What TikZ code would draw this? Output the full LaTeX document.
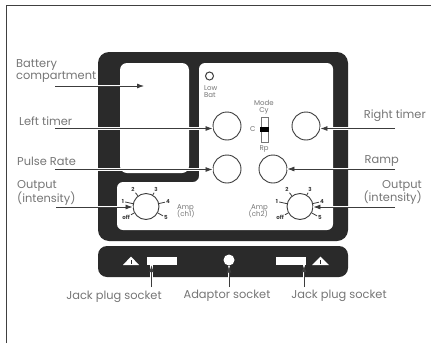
\documentclass[tikz,border=0pt]{standalone}
\usepackage{fontspec}
\setmainfont{Poppins}
\usepackage{xcolor}
\usetikzlibrary{arrows.meta,positioning}
\definecolor{panel}{HTML}{2A2A2A}
\definecolor{muted}{HTML}{757575}
\definecolor{line}{HTML}{3C3C3C}
% one dial with its numbers round it
\newcommand{\ampdial}[3]{
  \node[dial] (#1) at (#2,#3) {};
  \foreach \mark/\dx/\dy in {one/-23/-5,two/-13/-17,three/10/-17,four/22/-5,five/20/11,off/-20/11} {
    \coordinate (#1\mark) at (#2+\dx,#3+\dy);
  }
  \node[dialtext] (#1a) at (#1one) {1};
  \node[dialtext] (#1b) at (#1two) {2};
  \node[dialtext] (#1c) at (#1three) {3};
  \node[dialtext] (#1d) at (#1four) {4};
  \node[dialtext] (#1e) at (#1five) {5};
  \node[dialtext] (#1f) at (#1off) {off};
  \foreach \n in {a,b,c,d,e,f} { \draw[line width=0.8pt, draw=line] (#1) -- (#1\n); }
}

\begin{document}
\begin{tikzpicture}[
  x=1pt, y=-1pt,
  label/.style={font=\fontsize{11.4}{13}\selectfont, text=muted, inner sep=0pt, align=left},
  small/.style={font=\fontsize{7}{9}\selectfont, text=muted, inner sep=0pt, align=center},
  dialtext/.style={font=\fontsize{5.5}{6}\selectfont\bfseries, text=line, inner sep=1pt},
  dial/.style={circle, draw=line, fill=white, line width=0.9pt, minimum size=26pt, inner sep=0pt},
  knob/.style={circle, draw=line, fill=white, line width=0.9pt, minimum size=28pt, inner sep=0pt},
  slot/.style={fill=white, minimum width=30pt, minimum height=8pt, inner sep=0pt},
  arrow/.style={-{Latex[length=7pt,width=5pt]}, line width=0.8pt, draw=line,
                preaction={draw=white, line width=2.2pt, -}}
]
  \useasboundingbox (0,0) rectangle (431,343);
  \draw[line width=1.6pt, draw=black!75] (6.5,343) -- (6.5,5.5) -- (431,5.5);

  % main panel
  \fill[panel, rounded corners=11pt] (98,52) rectangle (348,241);
  \node[fill=white, rounded corners=7pt, minimum width=69pt, minimum height=110pt, inner sep=0pt] (battery) at (154.5,118) {};
  \fill[white, rounded corners=6pt] (199,63) -- (333,63) -- (333,230) -- (117,230) -- (117,182) -- (199,182) -- cycle;

  % plug strip
  \fill[panel, rounded corners=9pt] (98,246) rectangle (348,277);
  \node[slot] (jackleft) at (162,261) {};
  \node[slot] (jackright) at (291,261) {};
  \node[circle, fill=white, minimum size=11pt, inner sep=0pt] (adaptor) at (229,260) {};
  \fill[white] (123,265) -- (131,256.5) -- (139,265) -- cycle;
  \fill[white] (312,265) -- (320.5,256.5) -- (329,265) -- cycle;
  \draw[panel, line width=0.8pt] (131,260) -- (131,264);
  \draw[panel, line width=0.8pt] (320.5,260) -- (320.5,264);

  % controls
  \node[circle, draw=line, line width=1pt, minimum size=8pt, inner sep=0pt] (lowbat) at (209.5,76) {};
  \node[small, align=left, anchor=north west] (lowbattext) at (204,85) {Low\\[-1.5pt]Bat};
  \node[knob] (lefttimer) at (227,126) {};
  \node[knob] (righttimer) at (306,126) {};
  \node[knob] (pulse) at (227,169) {};
  \node[knob] (ramp) at (273,169) {};
  \node[draw=muted, fill=white, minimum width=7pt, minimum height=25pt, inner sep=0pt] (switch) at (264.5,129.5) {};
  \node[fill=black, minimum width=9pt, minimum height=5pt, inner sep=0pt] (slider) at (switch.center) {};
  \node[small] (modetext) at (264,103) {Mode};
  \node[small] (cytext) at (264,111) {Cy};
  \node[small, left=5pt of switch] (ctext) {C};
  \node[small] (rptext) at (264,149) {Rp};
  \ampdial{dialone}{146}{206.5}
  \ampdial{dialtwo}{300}{206.5}
  \node[small, align=left, anchor=west] (ampone) at (177,211) {Amp\\[-1.5pt](ch1)};
  \node[small, align=right, anchor=east] (amptwo) at (268,211) {Amp\\[-1.5pt](ch2)};

  % labels
  \node[label, anchor=west] (batterytext) at (16,71.5) {Battery\\[-1pt]compartment};
  \node[label, anchor=west] (lefttext) at (19,121) {Left timer};
  \node[label, anchor=west] (pulsetext) at (17,161) {Pulse Rate};
  \node[label, anchor=west] (outleft) at (17,193) {Output\\[-1pt](intensity)};
  \node[label, anchor=east] (righttext) at (426,116) {Right timer};
  \node[label, anchor=east] (ramptext) at (399,161) {Ramp};
  \node[label, anchor=east, align=right] (outright) at (422,192.5) {Output\\[-1pt](intensity)};
  \node[label] (jackone) at (114,297) {Jack plug socket};
  \node[label] (adaptortext) at (227,296) {Adaptor socket};
  \node[label] (jacktwo) at (339,296) {Jack plug socket};

  % free ends of the connectors
  \coordinate (batteryfrom) at (55,86);
  \coordinate (batteryto) at (144,86);
  \coordinate (leftfrom) at (55,128.5);
  \coordinate (pulsefrom) at (55,169.5);
  \coordinate (outleftfrom) at (56,207);
  \coordinate (rightfrom) at (395,128.5);
  \coordinate (rampfrom) at (395,169);
  \coordinate (outrightfrom) at (395,207);
  \coordinate (jackonefrom) at (151.5,287);
  \coordinate (adaptorfrom) at (229,287);
  \coordinate (jacktwofrom) at (304,287);

  \draw[arrow] (batteryfrom) -- (batteryto);
  \draw[arrow] (leftfrom) -- (leftfrom -| lefttimer.west);
  \draw[arrow] (pulsefrom) -- (pulsefrom -| pulse.west);
  \draw[arrow] (outleftfrom) -- (outleftfrom -| dialone.west);
  \draw[arrow] (rightfrom) -- (rightfrom -| righttimer.east);
  \draw[arrow] (rampfrom) -- (rampfrom -| ramp.east);
  \draw[arrow] (outrightfrom) -- (outrightfrom -| dialtwo.east) ;
  \draw[arrow] (jackonefrom) -- (jackonefrom |- jackleft.south);
  \draw[arrow] (adaptorfrom) -- (adaptor);
  \draw[arrow] (jacktwofrom) -- (jacktwofrom |- jackright.south);
\end{tikzpicture}
\end{document}
